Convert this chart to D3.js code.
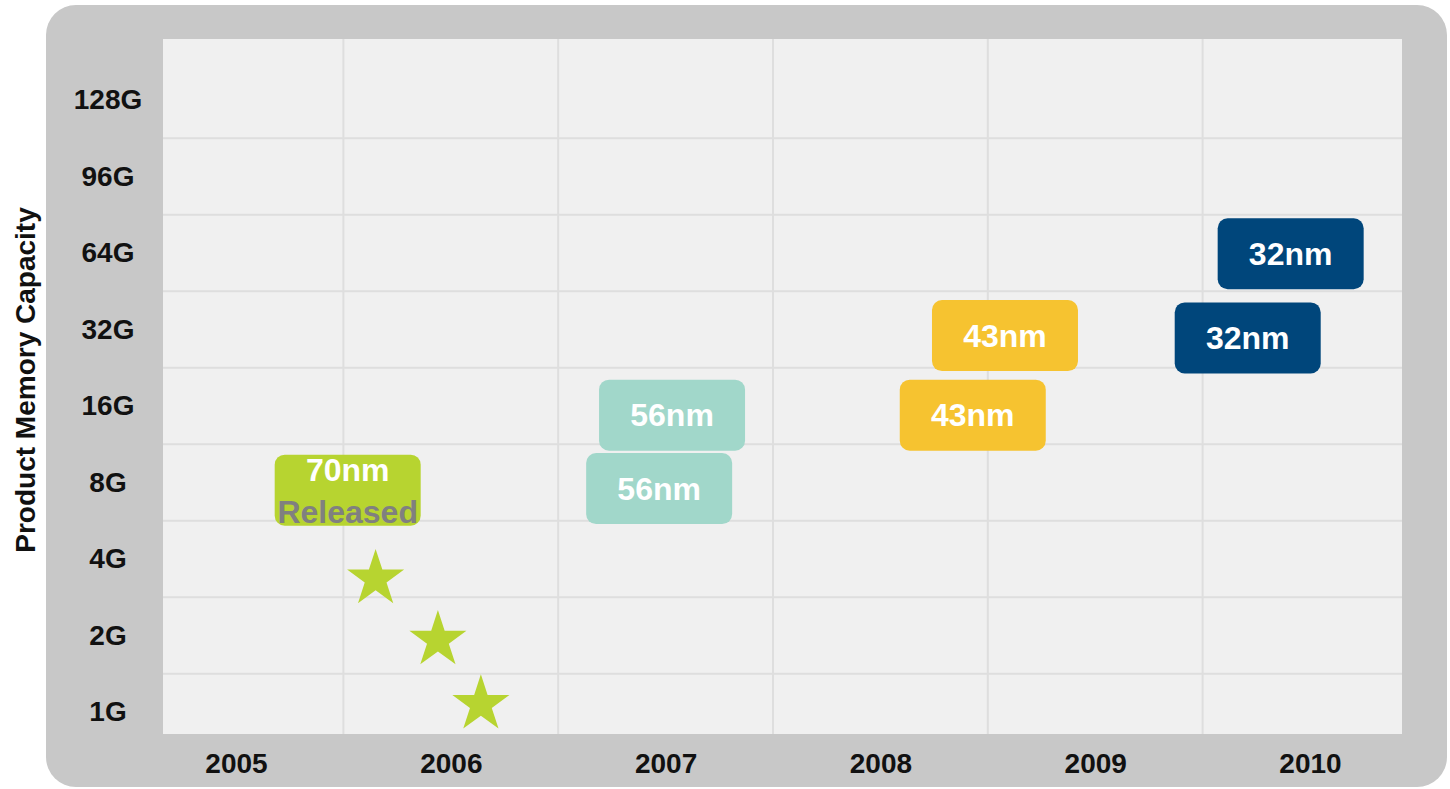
<!DOCTYPE html>
<html lang="en">
<head>
    <meta charset="UTF-8">
    <title>Product Memory Capacity</title>
    <script src="https://cdn.jsdelivr.net/npm/d3@7"></script>
    <style>
        body {
            margin: 0;
            background: #ffffff;
            font-family: "Liberation Sans", Arial, sans-serif;
        }
        .axis text {
            font-size: 28px;
            font-weight: bold;
            fill: #111111;
        }
        .box-label {
            font-size: 32px;
            font-weight: bold;
        }
    </style>
</head>
<body>
<div id="chart"></div>
<script>
    // data
    const years = [2005, 2006, 2007, 2008, 2009, 2010]
    const capacities = ["1G", "2G", "4G", "8G", "16G", "32G", "64G", "96G", "128G"]   // index 0 at bottom

    // process nodes: x in years, y as capacity index
    const nodeLabels = ["70nm", "56nm", "56nm", "43nm", "43nm", "32nm", "32nm"]
    const nodeYears  = [2005.52, 2007.03, 2006.97, 2008.58, 2008.43, 2009.91, 2009.71]
    const nodeCaps   = [2.9, 3.88, 2.92, 4.92, 3.88, 5.99, 4.89]
    const nodeColors = ["#b7d430", "#a1d7ca", "#a1d7ca", "#f6c330", "#f6c330", "#00467b", "#00467b"]

    // released products (stars)
    const starYears = [2005.65, 2005.94, 2006.14]
    const starCaps  = [1.74, 0.94, 0.1]

    const width = 1450
    const height = 789
    const plot = {left: 163, right: 1402, top: 39, bottom: 734}

    const svg = d3.select("#chart")
        .append("svg")
        .attr("width", width)
        .attr("height", height)

    // grey frame
    svg.append("rect")
        .attr("x", 46).attr("y", 5)
        .attr("width", 1401).attr("height", 782)
        .attr("rx", 30)
        .attr("fill", "#c8c8c8")

    svg.append("rect")
        .attr("x", plot.left).attr("y", plot.top)
        .attr("width", plot.right - plot.left)
        .attr("height", plot.bottom - plot.top)
        .attr("fill", "#f0f0f0")

    const x = d3.scaleLinear().domain([2005, 2010]).range([236, 1310])
    const y = d3.scaleLinear().domain([0, 8]).range([712, 100])

    // grid
    const grid = svg.append("g")
        .attr("stroke", "#dedede")
        .attr("stroke-width", 2)

    grid.selectAll(".vgrid")
        .data(years.slice(0, -1))
        .enter()
        .append("line")
        .attr("x1", d => x(d + 0.5))
        .attr("x2", d => x(d + 0.5))
        .attr("y1", plot.top)
        .attr("y2", plot.bottom)

    grid.selectAll(".hgrid")
        .data(d3.range(capacities.length - 1))
        .enter()
        .append("line")
        .attr("x1", plot.left)
        .attr("x2", plot.right)
        .attr("y1", d => y(d + 0.5))
        .attr("y2", d => y(d + 0.5))

    // axes
    const xAxis = svg.append("g")
        .attr("class", "axis")
        .attr("transform", `translate(0,${plot.bottom})`)
        .call(d3.axisBottom(x).tickValues(years).tickFormat(d3.format("d")).tickSize(0).tickPadding(19))
    xAxis.select(".domain").remove()
    xAxis.selectAll("text").attr("dy", "0.71em")

    const yAxis = svg.append("g")
        .attr("class", "axis")
        .attr("transform", "translate(108,0)")
        .call(d3.axisLeft(y).tickValues(d3.range(capacities.length)).tickFormat(i => capacities[i]).tickSize(0).tickPadding(0))
    yAxis.select(".domain").remove()
    yAxis.selectAll("text").attr("text-anchor", "middle")

    svg.append("text")
        .attr("transform", "translate(35,380) rotate(-90)")
        .attr("text-anchor", "middle")
        .attr("font-size", 28)
        .attr("font-weight", "bold")
        .attr("fill", "#111111")
        .text("Product Memory Capacity")

    // stars
    const star = d3.symbol().type(d3.symbolStar).size(1010)
    svg.selectAll(".star")
        .data(starYears)
        .enter()
        .append("path")
        .attr("d", star)
        .attr("transform", (d, i) => `translate(${x(d)},${y(starCaps[i])})`)
        .attr("fill", "#b7d430")

    // process boxes
    const boxW = 146
    const boxH = 71
    const boxes = svg.selectAll(".node")
        .data(nodeLabels)
        .enter()
        .append("g")
        .attr("transform", (d, i) => `translate(${x(nodeYears[i])},${y(nodeCaps[i])})`)

    boxes.append("rect")
        .attr("x", -boxW / 2)
        .attr("y", -boxH / 2)
        .attr("width", boxW)
        .attr("height", boxH)
        .attr("rx", 10)
        .attr("fill", (d, i) => nodeColors[i])

    boxes.append("text")
        .attr("class", "box-label")
        .attr("text-anchor", "middle")
        .attr("y", (d, i) => i === 0 ? -20 : 0)
        .attr("dy", "0.35em")
        .attr("fill", "#ffffff")
        .text(d => d)

    boxes.filter((d, i) => i === 0)
        .append("text")
        .attr("class", "box-label")
        .attr("text-anchor", "middle")
        .attr("y", 22)
        .attr("dy", "0.35em")
        .attr("fill", "#808080")
        .text("Released")
</script>
</body>
</html>
